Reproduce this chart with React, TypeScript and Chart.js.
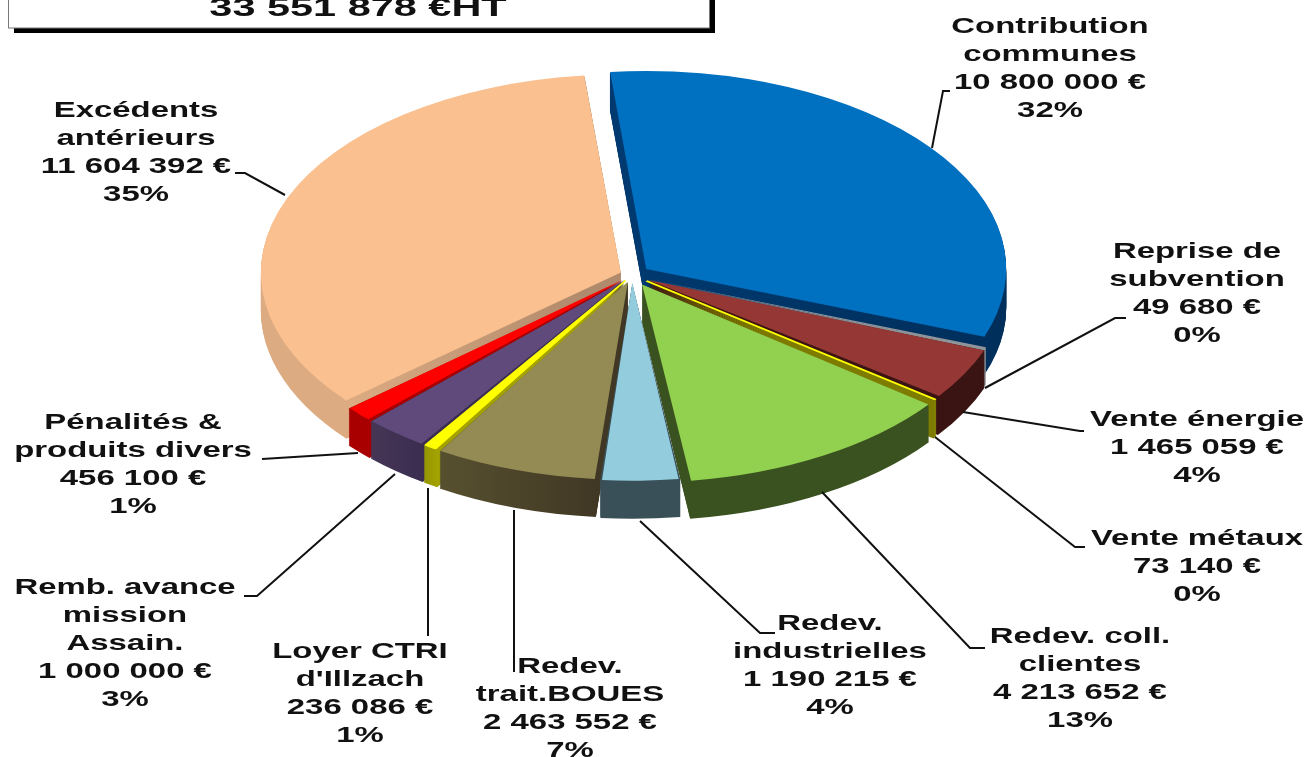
import React, { useEffect, useRef } from "react";
import { Chart, registerables } from "chart.js";

Chart.register(...registerables);

// ---- data ----
const categories: string[][] = [
  ["Contribution", "communes"],
  ["Reprise de", "subvention"],
  ["Vente énergie"],
  ["Vente métaux"],
  ["Redev. coll.", "clientes"],
  ["Redev.", "industrielles"],
  ["Redev.", "trait.BOUES"],
  ["Loyer CTRI", "d'Illzach"],
  ["Remb. avance", "mission", "Assain."],
  ["Pénalités &", "produits divers"],
  ["Excédents", "antérieurs"],
];
const values = [10800000, 49680, 1465059, 73140, 4213652, 1190215, 2463552, 236086, 1000000, 456100, 11604392];
const topColors = ["#0070c0", "#f2f4f6", "#953735", "#ffff00", "#92d050", "#93cddd", "#948a54", "#ffff00", "#604a7b", "#ff0000", "#fac090"];
const wallColors: string[][] = [
  ["#003a70", "#002f5c"],
  ["#8f9499", "#8f9499"],
  ["#3a1412", "#3a1412"],
  ["#8f8e00", "#7d7c00"],
  ["#3a5220", "#3a5220"],
  ["#3a5058", "#3a5058"],
  ["#403824", "#57502f"],
  ["#a3a200", "#959400"],
  ["#3a2d50", "#463656"],
  ["#a80000", "#a80000"],
  ["#dcab82", "#b08a6c"],
];
const titleText = "33 551 878 €HT";

// ---- layout ----
const explode = [18, 17, 18, 18, 20, 14, 13, 12, 12, 12, 12];
const borderWidths = [0, 0, 0, 3, 0, 0, 0, 2, 0, 0, 0];
const pieRadius = 360;
const squash = 0.55;
const depth = 38;
const pieCx = 632;
const pieCy = 275;
const startRotation = -5.8;
const labelCx = [1050, 1197, 1197, 1197, 1080, 830, 570, 360, 125, 133, 136];
const labelTop = [27, 252, 420, 539, 637, 624, 667, 652, 588, 423, 111];
const lineGap = 28.1;
const leaders: number[][][] = [
  [[932, 148], [943, 91], [950, 91]],
  [[985, 388], [1115, 318], [1126, 318]],
  [[963, 412], [1080, 431], [1084, 431]],
  [[935, 437], [1075, 547], [1085, 547]],
  [[822, 492], [970, 648], [985, 648]],
  [[640, 521], [760, 633], [775, 633]],
  [[514, 510], [514, 672]],
  [[428, 488], [428, 636]],
  [[395, 474], [257, 596], [244, 596]],
  [[358, 453], [262, 459]],
  [[285, 195], [245, 173], [235, 173]],
];

const total = values.reduce((a, b) => a + b, 0);
const money = (v: number) => String(v).replace(/\B(?=(\d{3})+(?!\d))/g, " ") + " €";

const FONT = '"Liberation Sans", Arial, sans-serif';

function stretchedText(ctx: CanvasRenderingContext2D, text: string, x: number, y: number, px: number, sx: number) {
  ctx.save();
  ctx.translate(x, y);
  ctx.scale(sx, 1);
  ctx.font = `bold ${px}px ${FONT}`;
  ctx.fillStyle = "#111";
  ctx.textAlign = "center";
  ctx.textBaseline = "middle";
  ctx.fillText(text, 0, 0);
  ctx.restore();
}

const pie3d = {
  id: "pie3d",
  beforeDatasetsDraw(chart: any) {
    const ctx: CanvasRenderingContext2D = chart.ctx;
    const arcs: any[] = chart.getDatasetMeta(0).data;
    const order = arcs
      .map((a, i) => ({ a, i, mid: (a.startAngle + a.endAngle) / 2 }))
      .sort((p, q) => Math.sin(p.mid) - Math.sin(q.mid));
    for (const { a, i, mid } of order) {
      const d = explode[i];
      const fix = 1 - Math.sin(Math.min(Math.PI, a.circumference || 0));
      a.outerRadius = pieRadius - d * fix;
      const ox = a.x + Math.cos(mid) * d;
      const oy = a.y + Math.sin(mid) * d;
      const g = ctx.createLinearGradient(ox + Math.cos(a.startAngle) * pieRadius, 0, ox + Math.cos(a.endAngle) * pieRadius, 0);
      g.addColorStop(0, wallColors[i][0]);
      g.addColorStop(1, wallColors[i][1]);
      for (let k = depth; k >= 1; k--) {
        ctx.save();
        ctx.translate(pieCx, pieCy + k);
        ctx.scale(1, squash);
        ctx.translate(-a.x, -a.y);
        ctx.beginPath();
        ctx.moveTo(ox, oy);
        ctx.arc(ox, oy, pieRadius, a.startAngle, a.endAngle);
        ctx.closePath();
        ctx.fillStyle = g;
        ctx.fill();
        ctx.restore();
      }
    }
  },
  beforeDatasetDraw(chart: any) {
    const ctx: CanvasRenderingContext2D = chart.ctx;
    const a = chart.getDatasetMeta(0).data[0];
    ctx.save();
    ctx.translate(pieCx, pieCy);
    ctx.scale(1, squash);
    ctx.translate(-a.x, -a.y);
  },
  afterDatasetDraw(chart: any) {
    chart.ctx.restore();
  },
  afterDraw(chart: any) {
    const ctx: CanvasRenderingContext2D = chart.ctx;
    // title box
    ctx.fillStyle = "#000";
    ctx.fillRect(14, 0, 701, 33);
    ctx.fillStyle = "#fff";
    ctx.fillRect(8, -2, 701, 30);
    ctx.strokeStyle = "#777";
    ctx.lineWidth = 1;
    ctx.strokeRect(8.5, -2, 701, 30);
    stretchedText(ctx, titleText, 358, 9, 25.6, 1.62);
    // leaders
    ctx.strokeStyle = "#111";
    ctx.lineWidth = 2;
    for (const pts of leaders) {
      ctx.beginPath();
      pts.forEach((p, i) => (i ? ctx.lineTo(p[0], p[1]) : ctx.moveTo(p[0], p[1])));
      ctx.stroke();
    }
    // labels
    categories.forEach((lines, i) => {
      const all = [...lines, money(values[i]), Math.round((values[i] / total) * 100) + "%"];
      all.forEach((t, j) => stretchedText(ctx, t, labelCx[i], labelTop[i] + j * lineGap, 21.5, 1.53));
    });
  },
};

export default function App() {
  const ref = useRef<HTMLCanvasElement>(null);
  useEffect(() => {
    const chart = new Chart(ref.current as HTMLCanvasElement, {
      type: "pie",
      data: {
        labels: categories.map((c) => c.join(" ")),
        datasets: [
          {
            data: values,
            backgroundColor: topColors,
            borderColor: topColors,
            borderWidth: borderWidths,
            offset: explode.map((d) => d * 4),
          },
        ],
      },
      options: {
        responsive: false,
        animation: false,
        rotation: startRotation,
        radius: pieRadius,
        layout: { padding: { left: 0, right: 1310 - 2 * pieCx, top: 0, bottom: 0 } },
        plugins: { legend: { display: false }, tooltip: { enabled: false }, title: { display: false } },
      },
      plugins: [pie3d],
    } as any);
    return () => chart.destroy();
  }, []);
  return (
    <canvas
      ref={ref}
      width={1310}
      height={757}
      style={{ position: "fixed", left: 0, top: 0, display: "block", width: 1310, height: 757, background: "#fff" }}
    />
  );
}
